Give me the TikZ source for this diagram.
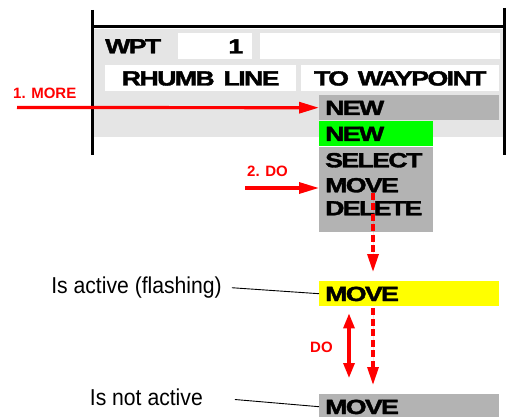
\documentclass[tikz,border=0pt]{standalone}
\usepackage{fontspec}
\setmainfont{Liberation Sans}
\newfontfamily\heavyface[FakeBold=1.6,LetterSpace=-6,WordSpace=0.6]{Liberation Sans Bold}
\usepackage{graphicx}
\usepackage{xcolor}
\definecolor{cPanel}{HTML}{E5E5E5}
\definecolor{cMenu}{HTML}{B3B3B3}
\definecolor{cRed}{HTML}{FF0000}
\definecolor{cGreen}{HTML}{00FF00}
\definecolor{cYellow}{HTML}{FFFF00}
\usetikzlibrary{positioning,arrows.meta}
\newcommand{\boxfont}{\fontsize{20.5}{24}\heavyface}
\newcommand{\wide}[1]{\scalebox{1.3}[1]{#1}}
\newcommand{\narrow}[1]{\scalebox{0.92}[1]{#1}}
\tikzset{
  frame-line/.style={line width=3pt,draw=black},
  field/.style={fill=white,anchor=north west,inner sep=0pt,minimum height=26pt,
    text height=14.6pt,text depth=0pt,font=\boxfont},
  field-label/.style={anchor=west,inner sep=0pt,text height=14.6pt,text depth=0pt,
    font=\boxfont},
  menu-row/.style={fill=cMenu,anchor=north west,inner ysep=0pt,inner xsep=6pt,
    minimum height=25pt,text height=14.6pt,text depth=0pt,align=left,font=\boxfont},
  menu-item/.style={anchor=west,inner sep=0pt,text height=14.6pt,text depth=0pt,
    font=\boxfont},
  % rote Bedienschritte
  step-label/.style={anchor=base west,inner sep=0pt,text=cRed,
    font=\fontsize{15}{18}\selectfont\bfseries},
  note-label/.style={anchor=base east,inner sep=0pt,font=\fontsize{23}{27}\selectfont},
  arrow-red/.style={-{Triangle[length=20pt,width=11pt]},line width=3.2pt,draw=cRed,fill=cRed},
  arrow-dash/.style={-{Triangle[length=18pt,width=11pt]},line width=3.2pt,
    dash pattern=on 7pt off 3.5pt,draw=cRed,fill=cRed},
  arrow-both/.style={{Triangle[length=15pt,width=11pt]}-{Triangle[length=15pt,width=11pt]},
    line width=3.2pt,draw=cRed,fill=cRed},
  link/.style={line width=0.9pt,draw=black},
}
\begin{document}
\begin{tikzpicture}[x=1pt,y=-1pt]
  \clip (0,0) rectangle (506,417);
  \fill[cPanel] (93,29) rectangle (504,137);
  \draw[frame-line] (92,10) -- (92,155);
  \draw[frame-line] (504,8) -- (504,155);
  \draw[frame-line] (92,27) -- (505,27);

  \node[field-label] (wpt) at (105,46) {\wide{WPT}};
  \node[field,text width=56pt,inner xsep=9pt,align=right] (wpt-num) at (178,33) {\wide{1}};
  \node[field,minimum width=240pt] (wpt-name) at (260,33) {};
  \node[field,text width=191pt,align=center] (rhumb) at (105,65) {\wide{RHUMB LINE}};
  \node[field,text width=198pt,align=center] (to-wpt) at (301,65) {\wide{TO WAYPOINT}};

  \node[menu-row,text width=168pt] (new-more) at (319,95) {\wide{NEW}};
  \node[menu-row,fill=cGreen,text width=102pt] (new-sel) at (319,121) {\wide{NEW}};
  \node[menu-row,minimum height=85pt,text width=102pt] (menu) at (319,147) {};
  \node[menu-item] (sel-item) at (325,160) {\wide{SELECT}};
  \node[menu-item] (mov-item) at (325,185) {\wide{MOVE}};
  \node[menu-item] (del-item) at (325,208) {\wide{DELETE}};
  \node[menu-row,fill=cYellow,text width=168pt] (act) at (319,281) {\wide{MOVE}};
  \node[menu-row,text width=168pt] (idle) at (319,394) {\wide{MOVE}};

  \node[step-label] (lbl-more) at (13,99) {1. MORE};
  \node[step-label] (lbl-do) at (247,176) {2. DO};
  \node[step-label] (lbl-toggle) at (310,352) {DO};
  \node[note-label] (lbl-active) at (222,293) {\narrow{Is active (flashing)}};
  \node[note-label] (lbl-idle) at (203,405) {\narrow{Is not active}};

  \coordinate (more-start) at (17,107.5);
  \coordinate (do-start) at (245,188);
  \coordinate (drop) at (373,0);
  \coordinate (toggle) at (349,0);

  \draw[arrow-red] (more-start) -- (new-more.west);
  \draw[arrow-red] (do-start) -- (do-start -| menu.west);
  \draw[arrow-dash,shorten >=9pt] (drop |- mov-item.south) -- (drop |- act.north);
  \draw[arrow-dash,shorten <=2pt,shorten >=9pt] (drop |- act.south) -- (drop |- idle.north);
  \draw[arrow-both,shorten <=7pt,shorten >=16pt] (toggle |- act.south) -- (toggle |- idle.north);
  \draw[link,shorten <=10pt] (lbl-active.east) -- (act.west);
  \draw[link,shorten <=32pt] (lbl-idle.east) -- (idle.west);
\end{tikzpicture}
\end{document}
